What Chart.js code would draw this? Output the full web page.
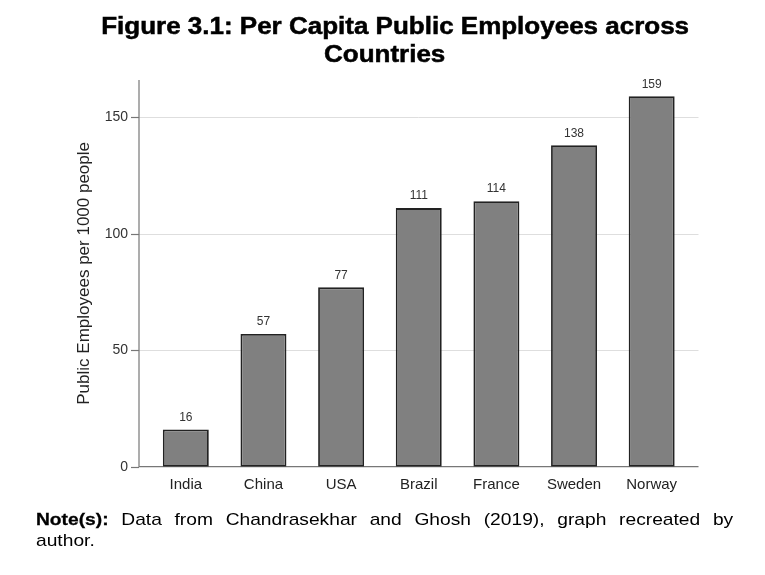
<!DOCTYPE html>
<html>
<head>
<meta charset="utf-8">
<script src="https://cdn.jsdelivr.net/npm/chart.js@4.4.0/dist/chart.umd.min.js"></script>
<style>
  html, body { margin: 0; padding: 0; background: #fff; }
  #wrap { position: relative; width: 765px; height: 575px; overflow: hidden; }
  #reportChart { position: absolute; left: 0; top: 0; }
  .tline {
    position: absolute; width: 800px; text-align: center; white-space: nowrap;
    font: bold 23px "Liberation Sans", Arial, sans-serif; line-height: 26px; color: #000;
  }
  .tline span { display: inline-block; transform: scaleX(1.13); -webkit-text-stroke: 0.5px #000; }
  #t1 { left: -4.5px; top: 13px; }   /* centre ~395 */
  #t2 { left: -15px; top: 40.5px; }  /* centre ~385 */
  #note {
    position: absolute; left: 36px; top: 509px; width: 617px;
    transform: scaleX(1.13); transform-origin: 0 0;
    font: 17px "Liberation Sans", Arial, sans-serif; line-height: 21px; color: #000;
  }
  #note .l1 { text-align: justify; text-align-last: justify; white-space: nowrap; }
  #note b { -webkit-text-stroke: 0.3px #000; }
</style>
</head>
<body>
<div id="wrap">
  <canvas id="reportChart" width="765" height="575"></canvas>
  <div class="tline" id="t1"><span>Figure 3.1: Per Capita Public Employees across</span></div>
  <div class="tline" id="t2"><span>Countries</span></div>
  <div id="note">
    <div class="l1"><b>Note(s):</b> Data from Chandrasekhar and Ghosh (2019), graph recreated by</div>
    <div>author.</div>
  </div>
</div>
<script>
const countries = ["India", "China", "USA", "Brazil", "France", "Sweden", "Norway"];
const employeesPer1000 = [16, 57, 77, 111, 114, 138, 159];
const yTicks = [0, 50, 100, 150];
const yMax = 166;

let ctx = document.getElementById("reportChart").getContext("2d");

// axis lines + gridlines reach a bit past the outer bars, like the original
const framePlugin = {
  id: "frame",
  beforeDatasetsDraw(chart) {
    const { ctx, chartArea } = chart;
    const y = chart.scales.y;
    const x0 = chartArea.left - 8, x1 = chartArea.right + 8;
    ctx.save();
    ctx.strokeStyle = "#dedede";
    ctx.lineWidth = 1;
    yTicks.forEach(v => {
      if (v === 0) return;
      const py = Math.round(y.getPixelForValue(v)) + 0.5;
      ctx.beginPath(); ctx.moveTo(x0, py); ctx.lineTo(x1, py); ctx.stroke();
    });
    ctx.strokeStyle = "#777";
    ctx.lineWidth = 1.2;
    ctx.beginPath();
    ctx.moveTo(x0, chartArea.top);
    ctx.lineTo(x0, y.getPixelForValue(0));
    ctx.lineTo(x1, y.getPixelForValue(0));
    ctx.stroke();
    yTicks.forEach(v => {
      const py = Math.round(y.getPixelForValue(v)) + 0.5;
      ctx.beginPath(); ctx.moveTo(x0 - 8, py); ctx.lineTo(x0, py); ctx.stroke();
    });
    ctx.restore();
  },
  afterDatasetsDraw(chart) {
    const { ctx } = chart;
    const meta = chart.getDatasetMeta(0);
    ctx.save();
    ctx.fillStyle = "#333";
    ctx.font = '12px "Liberation Sans", Arial, sans-serif';
    ctx.textAlign = "center";
    ctx.textBaseline = "bottom";
    meta.data.forEach((bar, i) => {
      ctx.fillText(employeesPer1000[i], bar.x, bar.y - 6);
    });
    ctx.restore();
  }
};

new Chart(ctx, {
  type: "bar",
  data: {
    labels: countries,
    datasets: [{
      label: "Public Employees per 1000 people",
      data: employeesPer1000,
      backgroundColor: "#808080",
      borderColor: "#222",
      borderWidth: 1.8,
      borderSkipped: false,
      categoryPercentage: 1,
      barPercentage: 0.592
    }]
  },
  options: {
    responsive: false,
    animation: false,
    layout: { padding: { left: 70, top: 80, right: 74.5, bottom: 0 } },
    plugins: {
      legend: { display: false },
      tooltip: { enabled: false }
    },
    scales: {
      x: {
        offset: true,
        grid: { display: false, drawTicks: false },
        border: { display: false },
        ticks: { padding: 9, color: "#222", font: { family: "Liberation Sans", size: 15 } },
        afterFit: s => { s.height = 575 - 466.7; }
      },
      y: {
        min: 0,
        max: yMax,
        afterBuildTicks: s => { s.ticks = yTicks.map(v => ({ value: v })); },
        grid: { display: false, drawTicks: false },
        border: { display: false },
        ticks: { padding: 19, color: "#333", font: { family: "Liberation Sans", size: 14 } },
        title: {
          display: true,
          text: "Public Employees per 1000 people",
          color: "#222",
          font: { family: "Liberation Sans", size: 17 },
          padding: { top: 4, bottom: 0 }
        },
        afterFit: s => { s.width = 77; }
      }
    }
  },
  plugins: [framePlugin]
});
</script>
</body>
</html>
